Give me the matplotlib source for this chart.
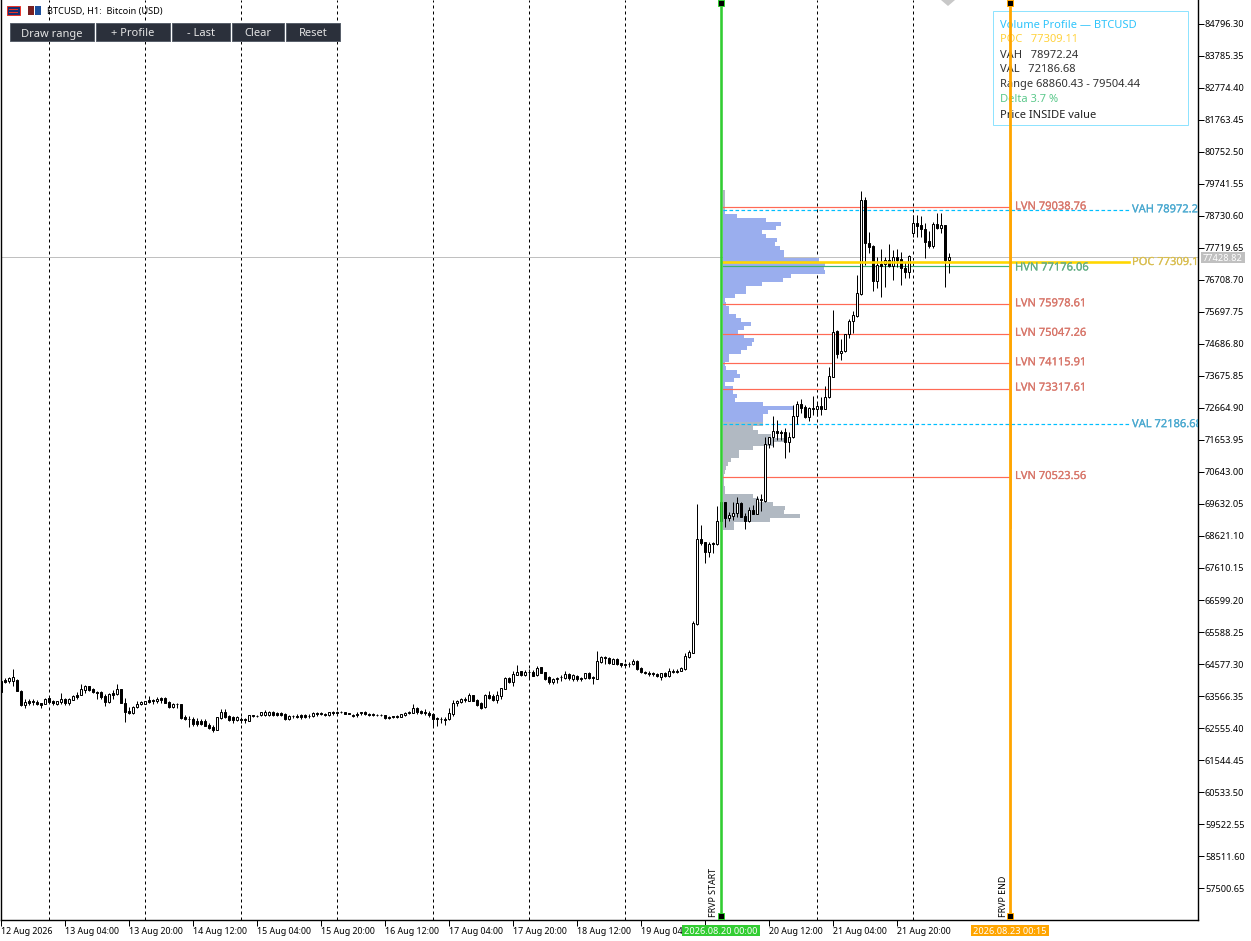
import matplotlib
matplotlib.use("Agg")
import matplotlib.pyplot as plt
import matplotlib.patheffects as pe
from matplotlib.patches import Rectangle, Polygon
from matplotlib.transforms import Affine2D

plt.rcParams['font.family'] = ['Noto Sans', 'DejaVu Sans']

# H1 candles, one row of ten bars per line
opens = [
    64051,64072,64051,64051,64072,63735,63293,63398,63398,63377,
    63335,63325,63514,63398,63325,63377,63461,63345,63451,63598,
    63609,63767,63872,63788,63693,63682,63566,63377,63672,63630,
    63777,63335,63103,63040,63219,63314,63325,63430,63440,63419,
    63493,63514,63377,63219,63325,63314,62892,62850,62850,62766,
    62777,62787,62661,62598,62492,62872,63050,62924,62893,62819,
    62840,62840,62787,62956,62945,62956,62966,62966,63050,63040,
    63029,62998,62829,62945,62934,62956,62956,62945,62945,63029,
    63019,62998,62956,63061,63061,63072,63061,63029,62966,62998,
    63050,63061,62998,62987,62977,62977,62966,62914,62924,62935,
    62914,62977,63019,63040,63188,63082,63061,63019,62998,62871,
    62850,62840,62829,63008,63345,63367,63430,63409,63588,63440,
    63335,63230,63598,63566,63451,63566,63798,64125,64019,64240,
    64346,64230,64335,64325,64219,64472,64314,64156,63998,64093,
    64156,64135,64262,64103,64188,64125,64125,64283,64156,64114,
    64641,64799,64767,64588,64725,64598,64577,64588,64577,64683,
    64451,64335,64304,64283,64272,64177,64293,64209,64335,64356,
    64367,64419,64809,64936,65841,68516,68421,68127,68400,68369,
    69085,69685,69200,69253,69358,69653,69253,69095,69432,69327,
    69780,69738,71517,71738,71938,71896,71907,71601,71738,72412,
    72791,72686,72391,72654,72644,72718,72644,73002,73655,75098,
    74392,74456,74993,75403,75582,76267,79236,77867,77783,76688,
    77214,77204,77341,77151,77425,77362,77088,76972,78204,78499,
    78446,78310,77930,77794,78468,78362,78436,77351,
]
closes = [
    63703,64019,64146,64156,63735,63282,63367,63356,63367,63314,
    63293,63482,63367,63335,63398,63461,63356,63461,63577,63535,
    63777,63872,63767,63682,63661,63545,63377,63619,63609,63777,
    63335,63061,63040,63208,63325,63377,63398,63388,63398,63461,
    63440,63356,63219,63314,63303,62861,62840,62829,62682,62682,
    62693,62629,62566,62492,62893,63061,62893,62808,62808,62893,
    62808,62798,62956,62924,62924,63050,63072,63072,62977,62977,
    62977,62829,62945,62924,62914,62903,62914,62924,63019,63008,
    62998,62977,63050,63029,63040,63050,62998,62998,62945,62977,
    63019,63008,62977,62966,62966,62956,62872,62882,62893,62914,
    62987,63019,63061,63177,63050,63040,63029,62956,62850,62840,
    62829,62819,63029,63345,63398,63461,63482,63598,63419,63282,
    63188,63598,63514,63440,63588,63809,64135,64019,64251,64335,
    64240,64325,64314,64209,64462,64304,64114,63998,64103,64125,
    64177,64251,64125,64230,64093,64093,64283,64135,64135,64672,
    64788,64767,64598,64735,64577,64535,64546,64567,64672,64419,
    64325,64283,64272,64261,64188,64283,64209,64356,64367,64335,
    64451,64820,64946,65862,68516,68411,68126,68358,68358,69085,
    69706,69200,69285,69358,69653,69232,69106,69432,69327,69780,
    69748,71528,71738,71938,71865,71865,71601,71738,72412,72781,
    72675,72391,72665,72644,72718,72644,73002,73676,75077,74371,
    74456,75003,75414,75593,76288,79236,77867,77762,76688,77172,
    77151,77341,77151,77425,77341,77078,76972,77457,78499,78425,
    78310,77920,77794,78468,78362,78436,77351,77425,
]
highs = [
    64072,64146,64177,64410,64093,63756,63472,63472,63462,63430,
    63356,63493,63556,63440,63398,63651,63503,63493,63598,63703,
    63945,63914,63893,63830,63724,63724,63619,63651,63756,63945,
    63798,63493,63230,63251,63419,63419,63419,63577,63482,63545,
    63535,63545,63398,63356,63356,63325,62966,62924,62892,62861,
    62850,62829,62703,62640,62893,63145,63145,62966,62934,62924,
    62913,62882,62966,62977,62966,63072,63114,63093,63082,63072,
    63061,63019,62966,62966,62987,62998,62998,62998,63072,63061,
    63072,63040,63050,63082,63103,63093,63072,63040,62987,63072,
    63072,63082,63040,63019,63008,63008,62977,62945,62945,62966,
    63008,63050,63082,63303,63219,63124,63145,63093,63019,62914,
    62914,62893,63177,63440,63440,63503,63524,63672,63598,63461,
    63367,63619,63724,63619,63714,63830,64156,64177,64367,64546,
    64367,64388,64430,64388,64504,64493,64335,64198,64125,64177,
    64219,64367,64293,64251,64219,64177,64304,64314,64209,64988,
    64841,64830,64788,64756,64756,64619,64619,64630,64725,64704,
    64472,64356,64356,64335,64304,64293,64314,64451,64419,64409,
    64472,64915,65020,65936,69632,68969,68442,68421,68442,69569,
    69850,69706,69390,69706,69843,69706,69337,69548,69601,69885,
    69938,71759,71759,72412,72286,71970,72023,71917,72760,72897,
    72939,72760,72707,73044,72865,73023,73360,73971,75761,75129,
    74845,75003,75466,75740,76867,79521,79341,78236,77815,77446,
    77688,77425,77846,77657,77678,77604,77288,77499,78762,78762,
    78731,78499,78257,78531,78815,78836,78446,77551,
]
lows = [
    63703,63967,63988,63882,63735,63251,63198,63272,63282,63272,
    63198,63325,63367,63272,63272,63314,63272,63282,63430,63482,
    63588,63651,63735,63651,63482,63472,63261,63356,63461,63598,
    63335,62756,62998,63008,63198,63272,63303,63335,63314,63335,
    63356,63345,63177,63177,63177,62840,62808,62598,62619,62619,
    62640,62619,62513,62429,62492,62850,62872,62766,62724,62777,
    62724,62703,62766,62893,62893,62935,62935,62945,62935,62935,
    62935,62808,62808,62882,62861,62850,62861,62882,62893,62935,
    62956,62935,62945,62956,62966,63029,62987,62987,62893,62914,
    62977,62977,62935,62935,62935,62924,62850,62850,62861,62871,
    62893,62935,62998,63029,63008,63008,62977,62893,62577,62619,
    62703,62661,62798,62945,63251,63335,63367,63398,63409,63251,
    63166,63198,63472,63409,63335,63461,63777,63967,63893,64219,
    64198,64198,64125,64198,64198,64283,64072,63945,63956,63988,
    64040,64093,64072,64040,64030,64030,64103,64093,63956,64114,
    64598,64577,64577,64567,64556,64493,64472,64493,64535,64388,
    64304,64261,64198,64198,64156,64072,64177,64177,64283,64283,
    64356,64388,64756,64915,65820,68340,67779,67968,68074,68348,
    69000,68916,69106,69127,69232,69211,68853,69074,69316,69306,
    69422,69706,71391,71443,71654,71654,71075,71285,71707,72159,
    72496,72338,72244,72444,72423,72444,72623,72970,73634,74234,
    74182,74435,74866,75045,75551,76235,77183,77572,76372,76467,
    76182,76498,77109,76709,77130,76551,76783,76783,78057,78057,
    78078,77415,77730,77730,78331,78183,76498,76941,
]

# volume profile, top bin first
profile_top = 79552.0
profile_step = 126.4
profile_vol = [
    2,2,2,2,2,2,14,43,58,53,39,43,54,52,57,61,61,96,102,101,
    102,68,60,39,23,23,12,2,3,6,6,13,18,28,21,15,21,31,29,24,
    18,6,6,2,3,14,17,11,2,10,10,14,12,40,71,45,40,40,40,30,
    35,48,61,50,30,16,16,8,5,3,2,1,1,1,2,2,30,36,50,62,
    61,77,47,11,11,
]

poc = 77309.11
vah = 78972.24
val = 72186.68
hvn = 77176.06
lvns = [79038.76, 75978.61, 75047.26, 74115.91, 73317.61, 70523.56]
last_price = 77428.82
level_nudge = 38  # levels sit a pixel under their printed price on the chart

ytick_values = [84796.30 - 1010.95 * n for n in range(28)]
xtick_bars = list(range(0, 240, 16))
# the 19 Aug 20:00 label is hidden behind the green time tag
xtick_labels = ["12 Aug 2026", "13 Aug 04:00", "13 Aug 20:00", "14 Aug 12:00", "15 Aug 04:00",
                "15 Aug 20:00", "16 Aug 12:00", "17 Aug 04:00", "17 Aug 20:00", "18 Aug 12:00",
                "19 Aug 04:00", "", "20 Aug 12:00", "21 Aug 04:00", "21 Aug 20:00"]
day_lines = list(range(12, 240, 24))
start_bar = 180
end_bar = 252.25

fig = plt.figure(figsize=(12.51, 9.41), dpi=100)
ax = fig.add_axes([1 / 1251, 21 / 941, 1197 / 1251, 920 / 941])
ax.set_xlim(0, 299.25)
ax.set_ylim(56490, 85554)

# pixel coordinates for the chart furniture (origin top left)
px = Affine2D().scale(1, -1).translate(0, 941)
LW = 0.72  # one pixel

ax.spines['top'].set_visible(False)
for s in ['left', 'right', 'bottom']:
    ax.spines[s].set_linewidth(LW * 1.4)
ax.yaxis.tick_right()
ax.set_yticks(ytick_values)
ax.set_yticklabels(["%.2f" % v for v in ytick_values], fontsize=6.6, va='center_baseline')
ax.tick_params(axis='y', length=4, width=LW, pad=1)
ax.set_xticks(xtick_bars)
ax.set_xticklabels(xtick_labels, fontsize=6.4, ha='left')
ax.tick_params(axis='x', length=4, width=LW, pad=1)

for b in day_lines:
    ax.axvline(b, color='black', lw=LW, ls=(0, (3, 3)), zorder=1)
ax.axhline(last_price, color='#c0c0c0', lw=LW, zorder=1)

# profile
for k, v in enumerate(profile_vol):
    mid = profile_top - profile_step * (k + 0.5)
    col = '#9aaeee' if val < mid < vah else '#b1b9c2'
    ax.barh(mid, v / 4, height=profile_step, left=180.5, color=col, lw=0, zorder=2)

# levels
def level_text(x, y, s, col):
    t = ax.text(x, y, s, va='center_baseline', color=col, fontsize=8, clip_on=True, zorder=6)
    t.set_path_effects([pe.withStroke(linewidth=0.15, foreground=col)])

for p in lvns:
    ax.plot([180.5, end_bar], [p - level_nudge] * 2, color='#ff6a55', lw=LW * 1.2, zorder=3)
    level_text(253.5, p + 25, "LVN %.2f" % p, '#d8766a')
ax.plot([180.5, end_bar], [hvn - level_nudge] * 2, color='#3cb371', lw=LW * 1.2, zorder=3)
level_text(253.5, hvn - 40, "HVN %.2f" % hvn, '#62ad84')
ax.plot([180.5, 282], [vah - level_nudge] * 2, color='#00bfff', lw=LW * 1.2, ls=(0, (3, 2)), zorder=3)
ax.plot([180.5, 282], [val - level_nudge] * 2, color='#00bfff', lw=LW * 1.2, ls=(0, (3, 2)), zorder=3)
ax.plot([180.5, 282], [poc - level_nudge] * 2, color='#ffd700', lw=LW * 2.6, zorder=5)
level_text(282.75, vah, "VAH %.2f" % vah, '#4aa9d0')
level_text(282.75, val, "VAL %.2f" % val, '#4aa9d0')
level_text(282.75, poc, "POC %.2f" % poc, '#d9be50')

# candles
bars = list(range(len(opens)))
ax.vlines(bars, lows, highs, color='black', lw=LW, zorder=4)
bodies_low = [min(o, c) for o, c in zip(opens, closes)]
bodies_h = [abs(c - o) for o, c in zip(opens, closes)]
body_col = ['white' if c > o else 'black' for o, c in zip(opens, closes)]
ax.bar(bars, bodies_h, bottom=bodies_low, width=0.55, color=body_col, edgecolor='black', lw=LW, zorder=4.5)

# range boundaries
ax.axvline(start_bar, color='#32cd32', lw=LW * 2.6, zorder=7)
ax.plot([252.6, 252.6], [68860, 79504], color='#ffa500', lw=LW, alpha=0.7, zorder=7)
ax.axvline(end_bar, color='#ffa500', lw=LW * 2.8, zorder=9)

def box(x0, y0, x1, y1, fc, ec='none', lw=0, z=8):
    ax.add_patch(Rectangle((x0, y0), x1 - x0, y1 - y0, transform=px, facecolor=fc, edgecolor=ec,
                           lw=lw, clip_on=False, zorder=z))

def label(x, y, s, color='black', size=7, ha='left', va='center_baseline', z=8.5, **kw):
    ax.text(x, y, s, transform=px, color=color, fontsize=size, ha=ha, va=va, clip_on=False, zorder=z, **kw)

for (x, col) in [(721, '#32cd32'), (1010, '#ffa500')]:
    for y in (3, 916):
        box(x - 3, y - 3, x + 3, y + 3, 'black', ec=col, lw=LW, z=10)
ax.add_patch(Polygon([(941, 0), (955, 0), (948, 6)], transform=px, facecolor='#c8c8c8', clip_on=False, zorder=8))
label(714, 917, "FRVP START", size=6.4, ha='center', va='bottom', rotation=90)
label(1003, 917, "FRVP END", size=6.4, ha='center', va='bottom', rotation=90)

# time tags on the axis
box(682, 925, 760, 936, '#32cd32', z=8)
label(721, 930.5, "2026.08.20 00:00", color='white', size=6.6, ha='center')
box(971, 925, 1049, 936, '#ffa500', z=8)
label(1010, 930.5, "2026.08.23 00:15", color='white', size=6.6, ha='center')
box(1201, 252, 1245, 263, '#c0c0c0', z=8)
label(1203, 257.5, "77428.82", color='white', size=6.6)

# header
box(7, 6, 20, 15, '#1d2f6f', ec='#e8352a', lw=LW)
for y in (9, 12):
    box(9, y, 18, y + 1, '#e8352a', z=8.2)
box(28, 6, 34, 15, '#7a1f1f')
box(35, 6, 41, 15, '#1c4f9c')
label(47, 10.5, "BTCUSD, H1:  Bitcoin (USD)", size=6.6)
for (x0, x1, txt) in [(10, 94, "Draw range"), (96, 170, "+ Profile"), (172, 230, "- Last"),
                      (232, 284, "Clear"), (286, 340, "Reset")]:
    box(x0, 23, x1, 41, '#2b303b', ec='#59606b', lw=LW)
    label((x0 + x1) / 2, 32.5, txt, color='#e4e4e4', size=8, ha='center')

# info panel
box(993, 11, 1188, 125, 'none', ec='#8fe3ff', lw=LW, z=8)
panel = [("Volume Profile \u2014 BTCUSD", '#2fc4fb'), ("POC   77309.11", '#ffd23c'), ("VAH   78972.24", '#333333'),
         ("VAL   72186.68", '#333333'), ("Range 68860.43 - 79504.44", '#333333'),
         ("Delta 3.7 %", '#5cc98c'), ("Price INSIDE value", '#222222')]
for n, (txt, col) in enumerate(panel):
    label(1000, 23.5 + 15 * n, txt, color=col, size=8, z=8)

fig.savefig("out.png", dpi=100)
